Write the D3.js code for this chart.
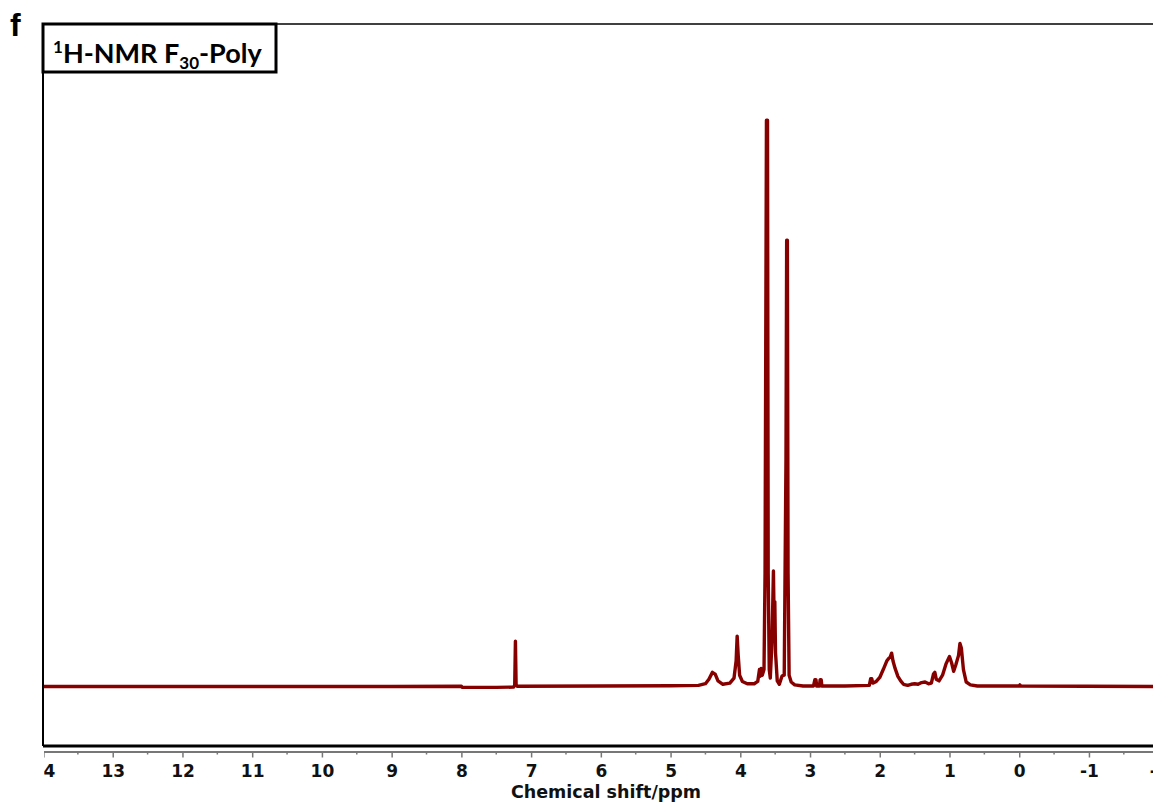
<!DOCTYPE html>
<html>
<head>
<meta charset="utf-8">
<script src="https://cdn.jsdelivr.net/npm/d3@7/dist/d3.min.js"></script>
<style>
  body { margin: 0; background: #fff; }
  svg { display: block; }
</style>
</head>
<body>
<svg id="chart"></svg>
<script>
// spectrum: chemical shift (ppm) and intensity (tallest peak = 100)
var shifts = [14.0, 9.0, 8.0, 7.99, 7.5, 7.25, 7.235, 7.225, 7.215, 7.2, 6.0, 5.0,
  4.6, 4.5, 4.45, 4.40, 4.36, 4.32, 4.25, 4.15, 4.09, 4.06, 4.045, 4.03, 4.01, 3.97,
  3.90, 3.80, 3.75, 3.725, 3.715, 3.70, 3.685, 3.66, 3.645, 3.635, 3.625, 3.61, 3.60, 3.585,
  3.57, 3.545, 3.525, 3.515, 3.505, 3.495, 3.47, 3.44, 3.40, 3.37, 3.345, 3.335,
  3.325, 3.315, 3.30, 3.27, 3.22, 3.1, 2.95, 2.93, 2.915, 2.905, 2.865, 2.855, 2.84,
  2.83, 2.5, 2.15, 2.13, 2.115, 2.10, 2.05, 2.0, 1.95, 1.9, 1.87, 1.85, 1.83, 1.81,
  1.78, 1.74, 1.70, 1.66, 1.60, 1.55, 1.50, 1.45, 1.40, 1.35, 1.30, 1.26, 1.23, 1.21,
  1.19, 1.15, 1.10, 1.05, 1.00, 0.97, 0.94, 0.91, 0.87, 0.85, 0.83, 0.80, 0.76, 0.70,
  0.60, 0.0, -0.01, -0.02, -2.3];
var intensities = [0, 0, 0.05, -0.15, -0.15, -0.1, 0.3, 8.0, 0.3, 0.05, 0.1, 0.15,
  0.2, 0.5, 1.3, 2.5, 2.2, 1.0, 0.4, 0.6, 1.5, 4.5, 8.9, 5.5, 2.0, 0.9,
  0.5, 0.5, 0.9, 3.0, 1.8, 3.2, 2.0, 3.0, 20, 60, 100, 100, 20, 3,
  1.5, 8, 20.4, 12, 15, 6, 1.0, 0.4, 1.9, 2.0, 40, 78.8,
  78.8, 20, 2.0, 0.8, 0.3, 0.1, 0.1, 1.2, 1.2, 0.1, 0.1, 1.2, 1.2,
  0.1, 0.1, 0.2, 1.4, 1.4, 0.6, 0.9, 1.6, 3.0, 4.5, 5.0, 5.2, 5.9, 4.5,
  3.2, 1.8, 1.0, 0.4, 0.2, 0.4, 0.5, 0.4, 0.7, 0.8, 0.5, 0.6, 2.2, 2.5,
  1.3, 1.0, 2.0, 4.0, 5.3, 4.2, 2.7, 3.8, 5.5, 7.6, 6.8, 3.0, 0.8, 0.3,
  0.1, 0.1, 0.3, 0.1, 0];
var majorTicks = [14, 13, 12, 11, 10, 9, 8, 7, 6, 5, 4, 3, 2, 1, 0, -1, -2];

var width = 1153, height = 805;
var margin = { top: 24, left: 43, bottom: 746 };

var svg = d3.select("#chart").attr("width", width).attr("height", height);

var x = d3.scaleLinear().domain([14, -2]).range([margin.left, margin.left + 16 * 69.73]);
var y = d3.scaleLinear().domain([-10.5, 117]).range([margin.bottom, margin.top]);

var data = shifts.map(function (s, i) { return { ppm: s, v: intensities[i] }; });

var defs = svg.append("defs");
defs.append("clipPath").attr("id", "plotClip")
  .append("rect").attr("x", margin.left).attr("y", margin.top)
  .attr("width", width - margin.left).attr("height", margin.bottom - margin.top);
defs.append("clipPath").attr("id", "axisClip")
  .append("rect").attr("x", margin.left + 1).attr("y", 740)
  .attr("width", width - margin.left).attr("height", 50);

// spectrum
svg.append("path")
  .datum(data)
  .attr("clip-path", "url(#plotClip)")
  .attr("fill", "none")
  .attr("stroke", "#870000")
  .attr("stroke-width", 3.4)
  .attr("stroke-linejoin", "round")
  .attr("d", d3.line().x(function (d) { return x(d.ppm); }).y(function (d) { return y(d.v); }));

// frame
svg.append("line").attr("x1", margin.left).attr("x2", width).attr("y1", margin.top).attr("y2", margin.top)
  .attr("stroke", "#000").attr("stroke-width", 1.5);
svg.append("line").attr("x1", margin.left).attr("x2", margin.left).attr("y1", margin.top).attr("y2", margin.bottom)
  .attr("stroke", "#000").attr("stroke-width", 2);
svg.append("line").attr("x1", margin.left).attr("x2", width).attr("y1", margin.bottom).attr("y2", margin.bottom)
  .attr("stroke", "#000").attr("stroke-width", 3);

// x-axis (clipped at the left edge like the source figure)
var axis = svg.append("g")
  .attr("clip-path", "url(#axisClip)")
  .append("g")
  .attr("transform", "translate(0,751.5)")
  .call(d3.axisBottom(x).tickValues(majorTicks).tickSize(6).tickPadding(7)
    .tickFormat(function (d) { return String(d); }));
axis.select(".domain").attr("stroke", "#777").attr("stroke-width", 2);
axis.selectAll(".tick line").attr("stroke", "#777").attr("stroke-width", 1.5);
axis.selectAll(".tick text")
  .attr("fill", "#111")
  .style("font-family", "DejaVu Sans")
  .style("font-weight", "bold")
  .style("font-size", "17px");
axis.selectAll(".minor")
  .data(majorTicks.map(function (t) { return t - 0.5; }))
  .enter().append("line")
  .attr("x1", function (d) { return x(d); })
  .attr("x2", function (d) { return x(d); })
  .attr("y1", 0).attr("y2", 3)
  .attr("stroke", "#777").attr("stroke-width", 1.5);

svg.append("text")
  .attr("x", 606).attr("y", 798)
  .attr("text-anchor", "middle")
  .style("font-family", "DejaVu Sans")
  .style("font-weight", "bold")
  .style("font-size", "17.5px")
  .attr("fill", "#111")
  .text("Chemical shift/ppm");

// title box
svg.append("rect").attr("x", margin.left).attr("y", margin.top).attr("width", 233).attr("height", 48)
  .attr("fill", "#fff").attr("stroke", "#000").attr("stroke-width", 3);
var title = svg.append("text")
  .attr("x", 53).attr("y", 63)
  .style("font-family", "Lato")
  .style("font-weight", "bold")
  .style("font-size", "27px")
  .attr("fill", "#000");
title.append("tspan").attr("dy", -10).style("font-size", "17px").text("1");
title.append("tspan").attr("dy", 10).text("H-NMR F");
title.append("tspan").attr("dy", 6).style("font-size", "17px").text("30");
title.append("tspan").attr("dy", -6).text("-Poly");

// panel letter
svg.append("text")
  .attr("x", 10).attr("y", 36)
  .style("font-family", "Liberation Sans")
  .style("font-weight", "bold")
  .style("font-size", "32px")
  .text("f");
</script>
</body>
</html>
